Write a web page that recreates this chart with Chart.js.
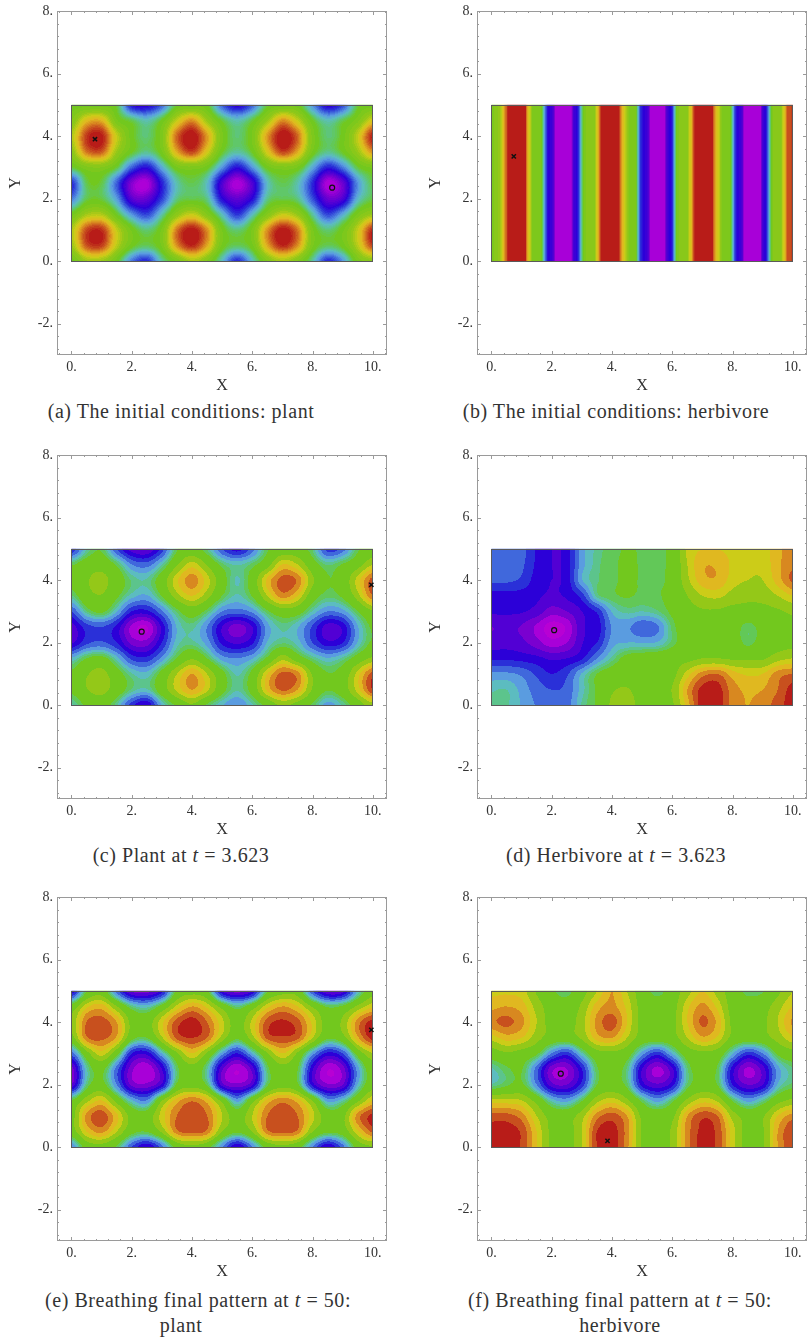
<!DOCTYPE html>
<html>
<head>
<meta charset="utf-8">
<title>Contour panels</title>
<script src="https://cdn.jsdelivr.net/npm/chart.js@4"></script>
<style>
  html, body { margin: 0; background: #fff; }
  #page { position: relative; width: 807px; height: 1337px; overflow: hidden; }
  #page canvas { position: absolute; }
  .caption {
    position: absolute; white-space: nowrap; transform: translateX(-50%);
    font-family: "Liberation Serif", serif; font-size: 20px; color: #333; letter-spacing: 0.55px;
  }
</style>
</head>
<body>
<div id="page"></div>
<script>
// ===================== DATA =====================

const xGrid = [0, 0.5, 1, 1.5, 2, 2.5, 3, 3.5, 4, 4.5, 5, 5.5, 6, 6.5, 7, 7.5, 8, 8.5, 9, 9.5, 10];
const yGrid = [5, 4.5, 4, 3.5, 3, 2.5, 2, 1.5, 1, 0.5, 0];

// contour levels, rows go from y=5 down to y=0
const plantInitial = [
  [10,10,10,9.5,4.5,4,6,9.7,10,9.8,6,4,6,9.5,10,10,7,4,5.5,9.5,10],
  [11,14,14.3,10.5,9.3,8.2,9.8,13,15,12,9.5,8.2,9.5,12,15,13,9.8,8.2,9.3,10.8,13.5],
  [12.5,16.6,17.2,13,10,8.9,10.8,15.8,17.6,14.8,10.5,8.9,10.5,14.8,17.6,15.8,10.8,8.9,10,13,17.2],
  [11.5,15.5,16,12,9.8,8.7,10.3,14.5,16.5,13.5,9.8,8.5,9.8,13.5,16.5,14.5,10.3,8.7,9.8,12,15],
  [9.5,10.8,11,9.5,6,4.5,7.5,10.3,10.8,10,7,4.5,7,10,10.8,10.3,7.5,4.8,6.5,9.5,10.5],
  [5,9.3,9.4,6,2,1,4.8,8.3,9.3,8,3.3,1,3.3,8,9.3,8.3,5,1,2.6,7,9.4],
  [6.5,9.3,9.4,7.2,3,2.7,5.4,8.8,9.3,8.7,4.3,2.8,4.3,8.7,9.3,8.8,5.7,2.6,3.3,7.8,9.4],
  [10,12.2,12.5,9.8,7,5.5,8.3,11.5,13,11,8,5.2,8,11,13,11.8,8.5,5.5,7.5,10.5,12],
  [12.5,16.3,16.8,13,10.2,8.9,10.5,15.5,17.4,15,10.3,8.9,10.5,15,17.4,15.5,10.5,8.9,10.2,13,17],
  [12,16.1,16.5,12.8,10,9.2,10.5,15,17,14.5,10.2,9.2,10.2,14.5,17,15,10.5,9.2,10,12.8,16.5],
  [10,12,12,10,6.5,5,8.5,10.5,12.3,11,8,5,8,11,12.3,11,8.5,5,7,10.5,11.5]
];
const plantMid = [
  [5,8.5,9.5,6,3.5,3,5.5,9.5,10.5,9,6,4.5,6.5,9.5,10.5,10.5,9,5.5,6.5,9.5,10.5],
  [9.5,10.7,11,9.5,7,6.5,8.5,11.5,13.5,11.5,9.3,8.5,9.3,11,14,13,10.5,9,9.8,11,13],
  [10.2,11.5,12.2,10.7,9,8.7,10.7,13.8,15.5,13.5,10.5,8.5,10.5,14.3,16.4,15.8,12,9.8,10.5,13.5,16.5],
  [9,11,11.6,10,8.3,7.8,9.8,12.5,14,12.3,9.7,8.5,9.8,13,15.5,14,10.6,9.3,10,12.5,16],
  [6,9,10,8,5,4.7,6.8,9.3,10.7,9.3,7,6.5,7.3,9.5,10.8,10.5,8.5,7,7.5,9.7,11.5],
  [3.5,5.5,6,4.7,1.7,0.9,4.3,8,8.8,7,4,2.5,4,7.5,8.8,8,5.8,3.5,4.3,7.8,10],
  [3.8,5.7,6.2,5,2.7,2.5,5,8.3,8.8,7.5,4.7,3.8,4.8,8,9,8.3,6,4.3,5,8,10],
  [8,9.7,10.2,8.3,5.7,5.3,7.3,9.8,11.5,9.7,7.5,7,7.8,10,12.5,10.6,9,8,8.8,10.5,12],
  [10,11.5,12.2,10.5,8.7,8.2,10.3,13,15,13,10.2,8.5,10.2,14,16.3,15.5,11.5,9.8,10.5,13.5,16.5],
  [10,11.6,12.2,10.8,9,8.5,10.7,13.3,15,13.3,10.3,8.7,10.4,14.3,16.2,15,11.5,9.8,10.8,13.5,17],
  [8.5,10,10.6,8.7,5.5,4,8,10,11.5,9.5,8,7,8.5,10.3,12,11,9.5,7.5,8.7,10.7,12.5]
];
const herbivoreMid = [
  [6.4,6.4,6.4,4.8,4,4.4,7.5,8.8,9.4,9.8,9.6,9.5,10.2,13.3,14,14,13.7,13.3,13.5,14.7,15.5],
  [6.4,6.4,6.2,4.8,4,4.4,7.5,8.9,9.5,9.9,9.6,9.5,10.2,13,14.8,14.8,13.8,13.2,13.3,14.7,15.8],
  [6.2,6.2,5.8,4.5,4,4.4,7.8,9,9.5,9.9,9.6,9.5,10.2,12.7,14.6,14.8,13.5,13,13,14.5,16.2],
  [4.6,4.6,4.5,4.2,3.8,4.2,5.5,8.8,9.5,9.8,9.5,9.6,10.2,11.7,13,13.3,12.5,12,12.2,13,14],
  [4.2,4.2,4.1,3.6,2.5,3,4,5.2,8,8.8,8.6,9,10,11,11.5,11.5,11.2,11.2,11.2,11.5,12],
  [3,3.2,2.9,1.8,0.5,1.2,3.8,4.4,7.1,7.2,6.2,6.8,9.3,10.7,11,11,10.6,9.3,10.3,10.9,11.2],
  [3.5,3.6,3.3,2.4,1.4,2,3.9,5,7.5,7.9,7.9,8,9.3,10.7,11,11,10.7,9.4,10.4,10.9,11.2],
  [4.8,4.8,4.6,4.3,3.8,4,4.8,7,8.8,10.2,10.5,10.8,11,11.2,11.7,11.7,11.5,11.5,11.5,12.5,13],
  [7.2,7.2,6.8,5.8,5,5.8,8,9.7,10.6,10.9,10.9,10.9,11.2,13.5,15.5,16,14.5,13.8,14,15.5,16],
  [8.5,8.6,7.6,6.5,6,6.3,8.3,9.9,11.5,11.8,11,11,11.8,15,17.4,17.5,15.5,14.8,15,16,17.5],
  [8.6,8.7,7.8,6.9,6.3,6.5,8.7,9.9,12,12.3,11.2,11,11.5,14.5,17.6,17.7,15.5,15,15.5,16.5,17.6]
];
const plantFinal = [
  [4,9.5,10.8,6.5,2.8,2.5,4.5,10,11,10,4,2.5,4,9.5,11,10.8,6,3,3.5,8,11],
  [10.5,13.7,14.5,11.8,9,8.3,10.3,13.3,15,13.7,11,9,10.8,13.7,15,14,11.5,9.5,10,12,13.8],
  [12,16,16.5,15,11.2,10.8,13.7,16.5,17.5,16,13.3,10.9,13.3,16.5,17.2,16.4,13.7,10.9,12,15.5,17.5],
  [11,15.8,16.3,14.8,10.3,9.7,12.8,16.3,17,16,12.5,10,12.5,16.3,16.8,16.3,13,10,11,14.8,17.5],
  [6.5,11,13.5,10.5,5,4.4,8,11.5,14,11.5,7.5,5,8,11.5,14,11.5,7.5,4.7,6,10.5,13],
  [2.5,8.5,10.2,6.5,2.3,1.2,4,9.3,11,8.7,3.2,1.1,3.4,9.3,11,9.8,4.2,1.1,2.5,7.5,11],
  [3,9,10.3,7,2.7,2.3,4.2,10,11,9.5,3.5,2.3,3.8,9.5,11,10,4.5,2.2,3,8,11],
  [9.8,12.5,14,11,8,7,11.5,14.5,15.8,14.5,11,7.5,11,14.3,15.6,14.5,11.5,7.5,8.5,11.3,14],
  [11,15.3,16.6,14.3,11,10.7,13.5,16,16.7,16,13,10.8,13,16,16.6,16,13.3,10.8,11.2,15.5,17.3],
  [10.8,14,15.3,13,10.3,9.8,12,15.7,16.4,15.7,11.7,10,11.7,15.7,16.4,15.7,11.7,10,10.6,13.8,16.3],
  [7,10.5,11,9.5,6,4,6.5,10.3,11.2,10.3,7,4,7,10.3,11.2,10.3,7,4,6.5,10.5,11.5]
];
const herbivoreFinal = [
  [13.7,13.8,13.5,11.5,10,9.3,11,13,15,13,10.7,9.3,10.7,12.5,14,12.5,10.8,9.3,9.6,11.3,13],
  [14.7,15,14.5,12.5,10.8,10.5,12,14.5,15.3,13.7,11,10.6,11,13.7,15.3,13.7,11,10.7,11,12.5,14],
  [15.8,16.3,15.3,13,11,10.9,12.5,15.3,16.5,14,11,10.9,11.2,14,16.2,14.7,11.3,10.9,11.3,13,15.2],
  [13.5,14.5,14,12.3,10.9,10.8,12,14.5,15,13,10.9,10.8,11,13,14.8,13.8,11.2,10.8,11,12.3,13.8],
  [10.8,11.5,11,10,7,5.5,8.5,11,11.3,10.6,7.5,5.5,8,10.7,11.3,10.9,8,5.5,7,10,11],
  [8.5,9.5,9.8,6.5,2.3,2,5,9.5,10.3,9,4,1.7,3.8,9,10.4,9.5,4.5,1.8,3.5,7.5,9],
  [8.7,9.5,10,7,3.4,3,5.4,9.7,10.4,9.3,4.6,3.2,4.6,9.2,10.4,9.7,5,3,4,8,9.3],
  [13.3,13.3,13,11,8.3,7.5,9.5,12.5,13.5,12,9.3,7.5,9.3,12,13.5,12.7,9.5,7.5,8.8,11,12],
  [16.4,16.4,15.5,13,11,10.9,12.5,15.5,16.5,15,11.3,10.9,11.3,15,16.7,16,12.5,11,11.5,14,15.5],
  [17.5,17.5,16.8,14,11.3,11,13,17,17.5,15.5,11.5,11,12,15.5,17.3,16.7,13.5,11,11.5,15,17],
  [17.5,17.5,16.8,14,11.3,11,13,17,17.6,15.3,11.5,10.9,12,15.5,17.5,16.7,13.5,11,11.5,15,16.8]
];

// panel (b) only changes along x, so it is one row of level against x
const stripeX = [0,0.28,0.34,0.42,0.5,0.56,1.12,1.17,1.22,1.3,1.36,1.62,1.7,1.75,1.8,1.86,2.05,2.12,2.65,2.72,2.86,2.92,2.97,3.03,3.1,3.42,3.48,3.55,3.6,3.66,4.22,4.28,4.36,4.48,4.55,4.78,4.83,4.88,4.93,5,5.2,5.27,5.75,5.82,5.98,6.03,6.08,6.13,6.2,6.5,6.57,6.65,6.7,6.76,7.32,7.38,7.45,7.58,7.66,7.92,7.97,8.02,8.07,8.13,8.32,8.38,8.93,8.98,9.12,9.17,9.22,9.28,9.34,9.6,9.68,9.75,9.82,10];
const stripeLevel = [10.5,12,13,14.5,16,17.5,17.5,15,14,12.5,11,10.5,9,7.5,6,4.5,3.5,1.2,1.2,3.5,4.5,6,8,9.5,11,11.5,13,14.5,16,17.5,17.5,15.5,14,12.5,11,10.5,9,7.5,5.5,4.5,3.5,1.2,1.2,3.5,4.5,6,8,9.5,11,11.5,13,14.5,16,17.5,17.5,15.5,14,12.5,11,10.5,9,7.5,5.5,4.5,3.5,1.2,1.2,3.5,4.5,6,8,9.5,11,11.5,13,14.5,16,16.5];

const levelBreaks = [0, 1, 2, 3, 4, 5, 6, 7, 7.9, 8.6, 9.1, 9.7, 11.7, 13, 14, 15, 16, 17];
const levelColors = [[184,0,212],[168,0,216],[122,0,208],[82,0,212],[44,0,216],[42,48,216],[64,104,220],[90,156,224],[92,188,192],[92,196,140],[98,200,88],[114,200,30],[148,200,24],[204,204,24],[224,184,32],[216,136,32],[200,80,30],[184,28,24]];

const xMajorTicks = [0, 2, 4, 6, 8, 10];
const xMinorTicks = [-0.4,0.4,0.8,1.2,1.6,2.4,2.8,3.2,3.6,4.4,4.8,5.2,5.6,6.4,6.8,7.2,7.6,8.4,8.8,9.2,9.6,10.4];
const yMajorTicks = [-2, 0, 2, 4, 6, 8];
const yMinorTicks = [-2.8,-2.4,-1.6,-1.2,-0.8,-0.4,0.4,0.8,1.2,1.6,2.4,2.8,3.2,3.6,4.4,4.8,5.2,5.6,6.4,6.8,7.2,7.6];

// ===================== CONTOUR DRAWING =====================

function catmull(a, b, c, d, t) {
  return b + 0.5 * t * (c - a + t * (2 * a - 5 * b + 4 * c - d + t * (3 * (b - c) + d - a)));
}

function gridLevel(rows, x, y) {
  const fx = Math.max(0, Math.min(xGrid.length - 1.001, x / 0.5));
  const fy = Math.max(0, Math.min(yGrid.length - 1.001, (5 - y) / 0.5));
  const ix = Math.floor(fx), iy = Math.floor(fy);
  const col = [];
  for (let j = -1; j <= 2; j++) {
    const r = rows[Math.max(0, Math.min(rows.length - 1, iy + j))];
    const p = k => r[Math.max(0, Math.min(r.length - 1, ix + k))];
    col.push(catmull(p(-1), p(0), p(1), p(2), fx - ix));
  }
  return catmull(col[0], col[1], col[2], col[3], fy - iy);
}

function stripeValue(x) {
  let i = 0;
  while (i < stripeX.length - 2 && stripeX[i + 1] < x) i++;
  const t = (x - stripeX[i]) / (stripeX[i + 1] - stripeX[i]);
  return stripeLevel[i] + Math.max(0, Math.min(1, t)) * (stripeLevel[i + 1] - stripeLevel[i]);
}

function levelColor(v, smooth) {
  let k = levelBreaks.length - 1;
  while (k > 0 && v < levelBreaks[k]) k--;
  if (!smooth) return `rgb(${levelColors[k]})`;
  const hi = k < levelBreaks.length - 1 ? levelBreaks[k + 1] : k + 1.5;
  // fine shading: three steps per band, blended toward the next colour
  const step = Math.min(2, Math.floor(3 * (v - levelBreaks[k]) / (hi - levelBreaks[k])));
  const next = levelColors[Math.min(k + 1, levelColors.length - 1)];
  const mix = levelColors[k].map((c, n) => Math.round(c + (next[n] - c) * step / 3));
  return `rgb(${mix})`;
}

const contourPlugin = {
  id: "contour",
  beforeDatasetsDraw(chart, args, opts) {
    const { ctx, scales: { x: sx, y: sy }, chartArea: area } = chart;
    const left = sx.getPixelForValue(0), right = sx.getPixelForValue(10);
    const top = sy.getPixelForValue(5), bottom = sy.getPixelForValue(0);

    // frame and its ticks
    ctx.save();
    ctx.strokeStyle = "#9a9a9a";
    ctx.lineWidth = 1;
    ctx.strokeRect(area.left + 0.5, area.top + 0.5, area.width - 1, area.height - 1);
    const tick = (vals, len) => {
      ctx.beginPath();
      vals.x.forEach(v => {
        const p = Math.round(sx.getPixelForValue(v)) + 0.5;
        ctx.moveTo(p, area.top); ctx.lineTo(p, area.top + len);
        ctx.moveTo(p, area.bottom); ctx.lineTo(p, area.bottom - len);
      });
      vals.y.forEach(v => {
        const p = Math.round(sy.getPixelForValue(v)) + 0.5;
        ctx.moveTo(area.left, p); ctx.lineTo(area.left + len, p);
        ctx.moveTo(area.right, p); ctx.lineTo(area.right - len, p);
      });
      ctx.stroke();
    };
    tick({ x: xMinorTicks, y: yMinorTicks }, 2);
    tick({ x: xMajorTicks, y: yMajorTicks }, 4);
    ctx.restore();

    // filled bands, one rect per run of equal colour
    const w = Math.ceil(right - left) + 6, h = Math.ceil(bottom - top) + 6;
    const off = document.createElement("canvas");
    off.width = w; off.height = h;
    const oc = off.getContext("2d");
    const ox = Math.floor(left) - 3, oy = Math.floor(top) - 3;
    for (let j = 0; j < h; j++) {
      const yv = sy.getValueForPixel(oy + j + 0.5);
      let runStart = 0, runColor = null;
      for (let i = 0; i <= w; i++) {
        let col = null;
        if (i < w) {
          const xv = sx.getValueForPixel(ox + i + 0.5);
          const v = opts.rows ? gridLevel(opts.rows, xv, yv) : stripeValue(xv);
          col = levelColor(v, opts.smooth);
        }
        if (col !== runColor) {
          if (runColor) {
            oc.fillStyle = runColor;
            oc.fillRect(runStart, j, i - runStart, 1);
          }
          runStart = i; runColor = col;
        }
      }
    }
    ctx.save();
    ctx.beginPath();
    ctx.rect(left, top, right - left, bottom - top);
    ctx.clip();
    ctx.filter = "blur(0.7px)";
    ctx.drawImage(off, ox, oy);
    ctx.restore();
    ctx.save();
    ctx.strokeStyle = "#5a5a5a";
    ctx.lineWidth = 1;
    ctx.strokeRect(Math.round(left) + 0.5, Math.round(top) + 0.5, Math.round(right - left), Math.round(bottom - top));
    ctx.restore();
  },
};

// ===================== PANELS =====================

function addPanel(left, top, rows, smooth, marks) {
  const page = document.getElementById("page");
  const canvas = document.createElement("canvas");
  canvas.style.left = left + "px";
  canvas.style.top = top + "px";
  canvas.width = 387;
  canvas.height = 395;
  page.appendChild(canvas);

  const serif = { family: "'Liberation Serif', serif", size: 14 };
  new Chart(canvas.getContext("2d"), {
    type: "scatter",
    data: {
      datasets: [
        {
          data: marks.cross,
          pointStyle: "crossRot",
          pointRadius: 3,
          borderColor: "#111",
          borderWidth: 1.5,
        },
        {
          data: marks.circle,
          pointStyle: "circle",
          pointRadius: 2.5,
          backgroundColor: "rgba(0,0,0,0)",
          borderColor: "#111",
          borderWidth: 1.2,
        },
      ],
    },
    options: {
      responsive: false,
      animation: false,
      events: [],
      layout: { autoPadding: false, padding: { top: 11, right: 0, left: 0, bottom: 0 } },
      plugins: {
        legend: { display: false },
        tooltip: { enabled: false },
        contour: { rows: rows, smooth: smooth },
      },
      scales: {
        x: {
          type: "linear",
          min: -0.48,
          max: 10.47,
          grid: { display: false, drawTicks: false },
          border: { display: false },
          afterBuildTicks: s => { s.ticks = xMajorTicks.map(v => ({ value: v })); },
          afterFit: s => { s.height = 40; s.paddingLeft = 0; s.paddingRight = 0; },
          ticks: { color: "#333", font: serif, padding: 4, maxRotation: 0, autoSkip: false, callback: v => v + "." },
          title: { display: true, text: "X", color: "#333", font: { family: serif.family, size: 16 }, padding: 0 },
        },
        y: {
          type: "linear",
          min: -3,
          max: 8,
          grid: { display: false, drawTicks: false },
          border: { display: false },
          afterBuildTicks: s => { s.ticks = yMajorTicks.map(v => ({ value: v })); },
          afterFit: s => { s.width = 57; s.paddingTop = 0; s.paddingBottom = 0; },
          ticks: { color: "#333", font: serif, padding: 4, autoSkip: false, callback: v => v + "." },
          title: { display: true, text: "Y", color: "#333", font: { family: serif.family, size: 16 }, padding: { top: 6, bottom: 0 } },
        },
      },
    },
    plugins: [contourPlugin],
  });
}

const rightColumnLeft = 420;
const rowTops = [0, 444, 886];

addPanel(0, rowTops[0], plantInitial, true, { cross: [{ x: 0.78, y: 3.9 }], circle: [{ x: 8.65, y: 2.35 }] });
addPanel(rightColumnLeft, rowTops[0], null, true, { cross: [{ x: 0.74, y: 3.35 }], circle: [] });
addPanel(0, rowTops[1], plantMid, false, { cross: [{ x: 9.95, y: 3.85 }], circle: [{ x: 2.33, y: 2.35 }] });
addPanel(rightColumnLeft, rowTops[1], herbivoreMid, false, { cross: [], circle: [{ x: 2.08, y: 2.4 }] });
addPanel(0, rowTops[2], plantFinal, false, { cross: [{ x: 9.95, y: 3.75 }], circle: [] });
addPanel(rightColumnLeft, rowTops[2], herbivoreFinal, false, { cross: [{ x: 3.85, y: 0.2 }], circle: [{ x: 2.3, y: 2.35 }] });

// ===================== CAPTIONS =====================

const captionTexts = [
  "(a) The initial conditions: plant",
  "(b) The initial conditions: herbivore",
  "(c) Plant at <i>t</i> = 3.623",
  "(d) Herbivore at <i>t</i> = 3.623",
  "(e) Breathing final pattern at <i>t</i> = 50:",
  "plant",
  "(f) Breathing final pattern at <i>t</i> = 50:",
  "herbivore",
];
const captionCenterX = [181, 616, 181, 616, 198, 181, 620, 620];
const captionCenterY = [412, 412, 856, 856, 1301, 1326, 1301, 1326];

captionTexts.forEach((text, i) => {
  const el = document.createElement("div");
  el.className = "caption";
  el.innerHTML = text;
  el.style.left = captionCenterX[i] + "px";
  el.style.top = (captionCenterY[i] - 12) + "px";
  document.getElementById("page").appendChild(el);
});
</script>
</body>
</html>
